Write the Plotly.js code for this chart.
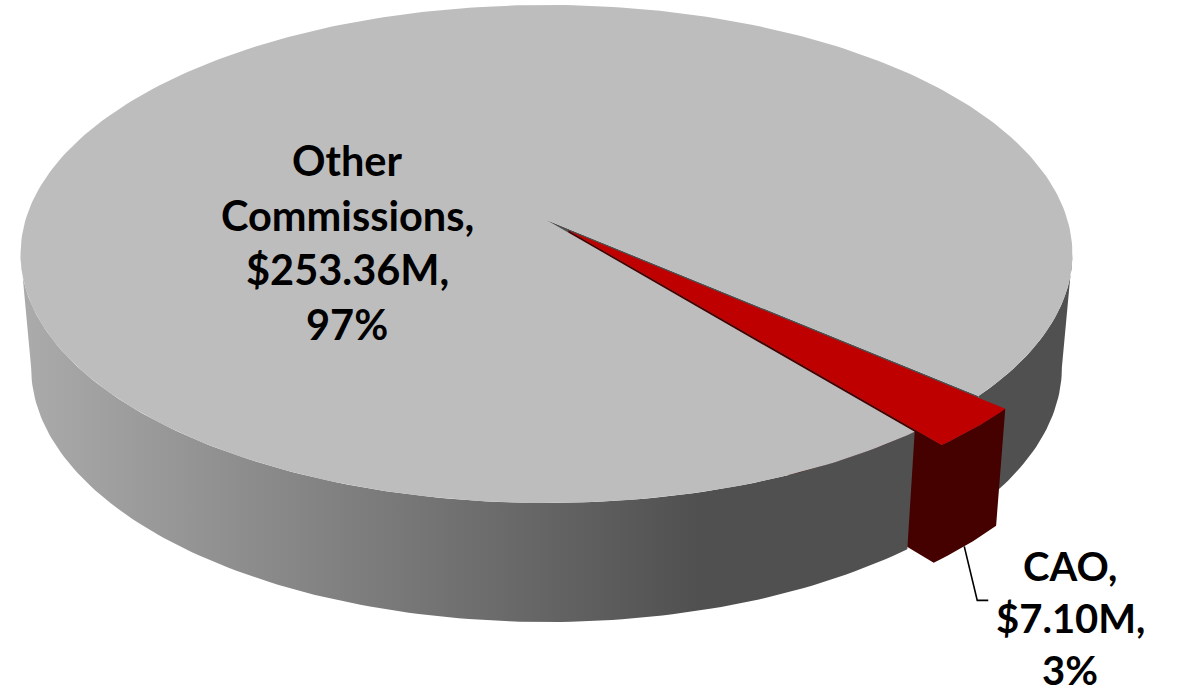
<!DOCTYPE html>
<html>
<head>
<meta charset="utf-8">
<script src="https://cdn.plot.ly/plotly-3.0.1.min.js"></script>
<style>html,body{margin:0;padding:0;background:#fff}#chart{width:1178px;height:694px}</style>
</head>
<body>
<div id="chart"></div>
<script>
// Data
const categories = ["Other Commissions", "CAO"];
const valuesM = [253.36, 7.10];
const percents = [97, 3];

// Tilted-disc projection (style and layout, not data)
const W = 1178, H = 694;
const CX = 546.5, TOP_Y = 220, A = 521, B = 244.4, K = 0.1365;
const BOT_Y = 332.5, BOT_B = 250, BOT_XS = 0.98;
const MID_ANGLE = 45.9, EXPLODE = 0.06;
const GREY_TOP = "#bdbdbd", GREY_WALL = "#505050", RED_TOP = "#bf0000", RED_WALL = "#450000";

function proj(u, v, bottom) {
  const d = 1 - K * v;
  return bottom
    ? [CX + BOT_XS * A * u / d, BOT_Y + BOT_B * v / d]
    : [CX + A * u / d, TOP_Y + B * v / d];
}
const rad = a => a * Math.PI / 180;
function rim(a0, a1, bottom, ox, oy) {
  const pts = [], n = Math.max(2, Math.ceil(Math.abs(a1 - a0)));
  for (let i = 0; i <= n; i++) {
    const a = rad(a0 + (a1 - a0) * i / n);
    pts.push(proj((ox || 0) + Math.cos(a), (oy || 0) + Math.sin(a), bottom));
  }
  return pts;
}

const total = valuesM[0] + valuesM[1];
const sweep = 360 * valuesM[1] / total;
const a1 = MID_ANGLE - sweep / 2, a2 = MID_ANGLE + sweep / 2;
const ex = EXPLODE * Math.cos(rad(MID_ANGLE)), ey = EXPLODE * Math.sin(rad(MID_ANGLE));
const SIL = Math.asin(K) * 180 / Math.PI;

const sideGradient = {
  type: "horizontal", start: 30, stop: 1075,
  colorscale: [[0, "#aaaaaa"], [0.64, GREY_WALL], [1, GREY_WALL]]
};

function poly(pts, color, name, gradient) {
  const t = {
    type: "scatter", mode: "lines", name: name,
    x: pts.map(p => p[0]).concat(pts[0][0]),
    y: pts.map(p => p[1]).concat(pts[0][1]),
    fill: "toself", fillcolor: color || undefined,
    line: {width: 0, color: color || GREY_WALL},
    hoverinfo: "skip", showlegend: false
  };
  if (gradient) t.fillgradient = gradient;
  return t;
}

const traces = [];
// Far wall of the notch left by the pulled-out slice
traces.push(poly([proj(0,0,false)].concat(rim(a1,a1,false).slice(0,1), rim(a1,a1,true).slice(0,1), [proj(0,0,true)]), GREY_WALL, "notch"));
// Grey side wall, right of the slice
traces.push(poly(rim(SIL, a1, false).concat(rim(a1, SIL, true)), null, categories[0] + " side right", sideGradient));

// Leader line for the slice label
const lb = rim(MID_ANGLE + 0.4, MID_ANGLE + 0.4, true, ex, ey)[0];
traces.push({
  type: "scatter", mode: "lines", x: [lb[0], lb[0] + 13, lb[0] + 24], y: [lb[1], lb[1] + 54, lb[1] + 54],
  line: {color: "#000000", width: 1.6}, hoverinfo: "skip", showlegend: false
});

// Slice wall: radial face and rim face as one shape
traces.push(poly(
  [proj(ex,ey,false)].concat(rim(a2, a1, false, ex, ey), rim(a1, a2, true, ex, ey), [proj(ex,ey,true)]),
  RED_WALL, categories[1] + " wall"));
// Grey side wall, left of the slice
traces.push(poly(rim(a2, 180 - SIL, false).concat(rim(180 - SIL, a2, true)), null, categories[0] + " side left", sideGradient));
// Top faces
traces.push(poly([proj(0,0,false)].concat(rim(a2, a1 + 360, false)), GREY_TOP, categories[0]));
traces.push(poly([proj(ex,ey,false)].concat(rim(a1, a2, false, ex, ey)), RED_TOP, categories[1]));

function labelLines(i) {
  const words = categories[i].split(" ");
  words[words.length - 1] += ",";
  return words.concat(["$" + valuesM[i].toFixed(2) + "M,", percents[i] + "%"]);
}
const FONT = {family: "Lato, 'Open Sans', sans-serif", size: 41.5, color: "#000000"};
const FONT_SMALL = {family: FONT.family, size: 40, color: FONT.color};
function lineNotes(i, x, y0, dy, font) {
  return labelLines(i).map((t, j) => ({
    text: "<b>" + t + "</b>", x: x, y: y0 + j * dy, xref: "x", yref: "y",
    showarrow: false, xanchor: "center", yanchor: "middle", font: font
  }));
}

const layout = {
  width: W, height: H,
  margin: {l: 0, r: 0, t: 0, b: 0},
  paper_bgcolor: "#ffffff", plot_bgcolor: "#ffffff",
  xaxis: {range: [0, W], visible: false, fixedrange: true},
  yaxis: {range: [H, 0], visible: false, fixedrange: true},
  showlegend: false,
  annotations: lineNotes(0, 347, 160, 54.7, FONT).concat(lineNotes(1, 1070, 566, 52, FONT_SMALL))
};
Plotly.newPlot("chart", traces, layout, {displayModeBar: false, staticPlot: true});
</script>
</body>
</html>
